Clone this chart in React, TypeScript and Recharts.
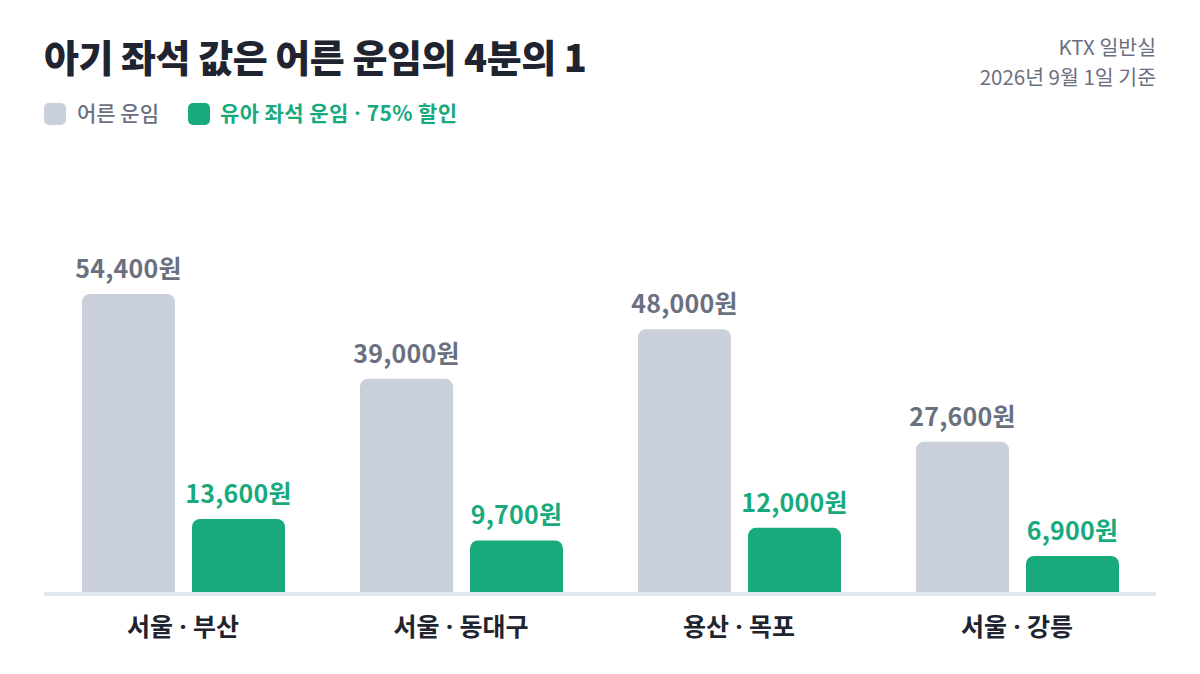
import React from 'react';
import { BarChart, Bar, XAxis, YAxis, LabelList } from 'recharts';

const routes = ['서울 · 부산', '서울 · 동대구', '용산 · 목포', '서울 · 강릉'];
const adultFare = [54400, 39000, 48000, 27600];
const childFare = [13600, 9700, 12000, 6900];

const data = routes.map((route, i) => ({ route, adult: adultFare[i], child: childFare[i] }));

const FONT = '"Noto Sans CJK KR", "Noto Sans", sans-serif';
const DOT_FONT = '"Noto Sans", "Open Sans", sans-serif';
const GRAY_BAR = '#c9d0dc';
const GREEN = '#18aa7c';
const GRAY_TEXT = '#6b7080';
const DARK = '#1f2430';

const fmt = (v: number) => v.toLocaleString('en-US') + '원';

// render " · " with a narrow latin middle dot
const withDot = (s: string) => {
  const parts = s.split(' · ');
  const out: React.ReactNode[] = [];
  parts.forEach((p, i) => {
    if (i > 0) out.push(<tspan key={'d' + i} fontFamily={DOT_FONT}>{' · '}</tspan>);
    out.push(<tspan key={'p' + i}>{p}</tspan>);
  });
  return out;
};

const makeLabel = (color: string) => (props: any) => {
  const { x, y, width, value } = props;
  return (
    <text
      x={Number(x) + Number(width) / 2}
      y={Number(y) - 16}
      textAnchor="middle"
      fill={color}
      fontFamily={FONT}
      fontWeight={700}
      fontSize={25}
      letterSpacing={0.2}
    >
      {fmt(Number(value))}
    </text>
  );
};

const Tick = (props: any) => {
  const { x, y, payload } = props;
  return (
    <text x={x} y={Number(y) + 42} textAnchor="middle" fill={DARK} fontFamily={FONT} fontWeight={700} fontSize={25}>
      {withDot(String(payload.value))}
    </text>
  );
};

export default function App() {
  return (
    <div style={{ position: 'fixed', left: 0, top: 0, width: 1200, height: 674, background: '#fff' }}>
      <div style={{ position: 'absolute', left: 0, top: 0 }}>
        <BarChart
          width={1200}
          height={674}
          data={data}
          margin={{ top: 263, right: 44, left: 44, bottom: 0 }}
          barCategoryGap={37}
          barGap={17}
        >
          <YAxis hide domain={[0, 60000]} />
          <XAxis
            dataKey="route"
            height={80}
            axisLine={{ stroke: '#e2e7ee', strokeWidth: 4 }}
            tickLine={false}
            tickSize={0}
            tickMargin={0}
            tick={<Tick />}
            interval={0}
          />
          <Bar dataKey="adult" fill={GRAY_BAR} radius={[8, 8, 0, 0]} barSize={93} isAnimationActive={false}>
            <LabelList dataKey="adult" content={makeLabel(GRAY_TEXT)} />
          </Bar>
          <Bar dataKey="child" fill={GREEN} radius={[8, 8, 0, 0]} barSize={93} isAnimationActive={false}>
            <LabelList dataKey="child" content={makeLabel(GREEN)} />
          </Bar>
        </BarChart>
      </div>
      <svg width={1200} height={674} style={{ position: 'absolute', left: 0, top: 0, pointerEvents: 'none' }}>
        <text x={44} y={72} fill={DARK} fontFamily={FONT} fontWeight={900} fontSize={38} letterSpacing={-0.5}>
          아기 좌석 값은 어른 운임의 4분의 1
        </text>
        <rect x={44} y={103} width={22} height={22} rx={5} fill={GRAY_BAR} />
        <text x={77} y={121} fill={GRAY_TEXT} fontFamily={FONT} fontWeight={500} fontSize={21}>
          어른 운임
        </text>
        <rect x={188} y={103} width={22} height={22} rx={5} fill={GREEN} />
        <text x={220} y={121} fill={GREEN} fontFamily={FONT} fontWeight={700} fontSize={21} letterSpacing={0.4}>
          {withDot('유아 좌석 운임 · 75% 할인')}
        </text>
        <text x={1156} y={55} textAnchor="end" fill={GRAY_TEXT} fontFamily={FONT} fontWeight={400} fontSize={20.5}>
          KTX 일반실
        </text>
        <text x={1156} y={85} textAnchor="end" fill={GRAY_TEXT} fontFamily={FONT} fontWeight={400} fontSize={20.5}>
          2026년 9월 1일 기준
        </text>
      </svg>
    </div>
  );
}
